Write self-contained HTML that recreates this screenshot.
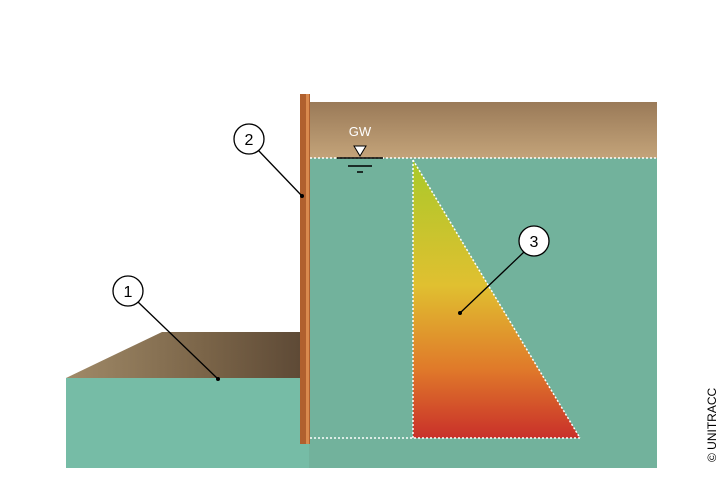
<!DOCTYPE html>
<html><head><style>body{margin:0;background:#fff}svg{display:block}</style></head><body>
<svg width="720" height="480" viewBox="0 0 720 480" xmlns="http://www.w3.org/2000/svg" font-family="Liberation Sans, sans-serif">
<defs>
<linearGradient id="tri" x1="0" y1="0" x2="0" y2="1">
<stop offset="0" stop-color="#a9c92a"/><stop offset="0.45" stop-color="#e0c030"/><stop offset="0.75" stop-color="#e07a2a"/><stop offset="1" stop-color="#c9302a"/></linearGradient>
<linearGradient id="brown" x1="0" y1="0" x2="0" y2="1"><stop offset="0" stop-color="#9a7a58"/><stop offset="1" stop-color="#c4a47a"/></linearGradient>
<linearGradient id="lb" x1="0" y1="0" x2="1" y2="0"><stop offset="0" stop-color="#a08a68"/><stop offset="0.6" stop-color="#7a6448"/><stop offset="1" stop-color="#5e4a36"/></linearGradient>
</defs>
<rect x="309" y="102" width="348" height="57" fill="url(#brown)"/>
<rect x="309" y="158" width="348" height="310" fill="#72b29c"/>
<polygon points="66,378 162,332 300,332 300,378" fill="url(#lb)"/>
<rect x="66" y="378" width="243" height="90" fill="#76bca6"/>
<rect x="300" y="94" width="10" height="350" fill="#b0602e"/>
<rect x="306" y="94" width="3" height="350" fill="#d98a4e"/>
<polygon points="413,160 580,438 413,438" fill="url(#tri)"/>
<g stroke="#fff" stroke-width="1.5" stroke-dasharray="2,2" fill="none">
<line x1="310" y1="158" x2="657" y2="158"/>
<line x1="413" y1="160" x2="413" y2="438"/>
<line x1="310" y1="438" x2="580" y2="438"/>
<line x1="413" y1="160" x2="580" y2="438"/>
</g>
<g stroke="#000" stroke-width="1.3" fill="#fff">
<line x1="138" y1="302" x2="218" y2="379"/>
<line x1="258" y1="150" x2="302" y2="196"/>
<line x1="524" y1="252" x2="460" y2="313"/>
<circle cx="128" cy="291" r="15"/>
<circle cx="249" cy="139" r="15"/>
<circle cx="534" cy="241" r="15"/>
</g>
<g fill="#000"><circle cx="218" cy="379" r="2"/><circle cx="302" cy="196" r="2"/><circle cx="460" cy="313" r="2"/></g>
<g font-size="16" text-anchor="middle"><text x="128" y="297">1</text><text x="249" y="145">2</text><text x="534" y="247">3</text></g>
<text x="360" y="136" font-size="13" fill="#fff" text-anchor="middle">GW</text>
<polygon points="354,146 366,146 360,156" fill="#fff" stroke="#000"/>
<g stroke="#000" stroke-width="1.5"><line x1="337" y1="158" x2="383" y2="158"/><line x1="348" y1="166" x2="372" y2="166"/><line x1="357" y1="172" x2="363" y2="172"/></g>
<text transform="translate(716,462) rotate(-90)" font-size="12" fill="#000">© UNITRACC</text>
</svg>
</body></html>
